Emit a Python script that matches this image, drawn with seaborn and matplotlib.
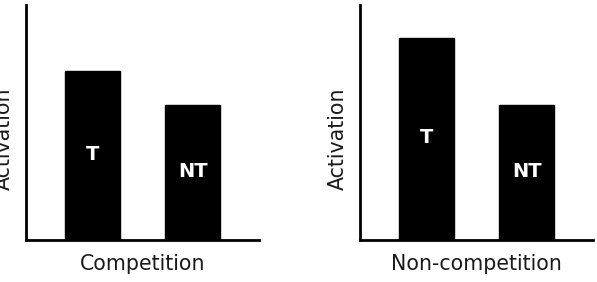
import seaborn as sns
import matplotlib.pyplot as plt
import pandas as pd

# bar heights (axis height = 1)
conditions = ["Competition", "Non-competition"]
bar_labels = ["T", "NT"]
competition_vals = [0.72, 0.575]
noncompetition_vals = [0.86, 0.575]

sns.set_style("white")
plt.rcParams['font.family'] = ['DejaVu Sans']

fig = plt.figure(figsize=(5.97, 2.82), dpi=100)
ax1 = fig.add_axes([25.5 / 597, 42 / 282, 233.5 / 597, 235 / 282])
ax2 = fig.add_axes([359.5 / 597, 42 / 282, 233.5 / 597, 235 / 282])

for ax, cond, vals in zip([ax1, ax2], conditions, [competition_vals, noncompetition_vals]):
    df = pd.DataFrame({"label": bar_labels, "activation": vals})
    sns.barplot(data=df, x="label", y="activation", color="black", width=0.55,
                saturation=1, edgecolor="black", ax=ax)
    for i, v in enumerate(vals):
        ax.text(i, v / 2 + 0.005, bar_labels[i], color="white", fontsize=14,
                fontweight="bold", ha="center", va="center")
    ax.set_xlim(-0.675, 1.665)
    ax.set_ylim(0, 1)
    ax.set_xticks([])
    ax.set_yticks([])
    ax.set_xlabel(cond, fontsize=14.8, color="#1a1a1a", labelpad=10)
    ax.set_ylabel("Activation", fontsize=14.8, color="#1a1a1a")
    ax.yaxis.set_label_coords(-0.05, 0.43)
    sns.despine(ax=ax)
    for side in ["left", "bottom"]:
        ax.spines[side].set_linewidth(2.0)
        ax.spines[side].set_color("black")

fig.savefig("out.png", dpi=100)
plt.close()
